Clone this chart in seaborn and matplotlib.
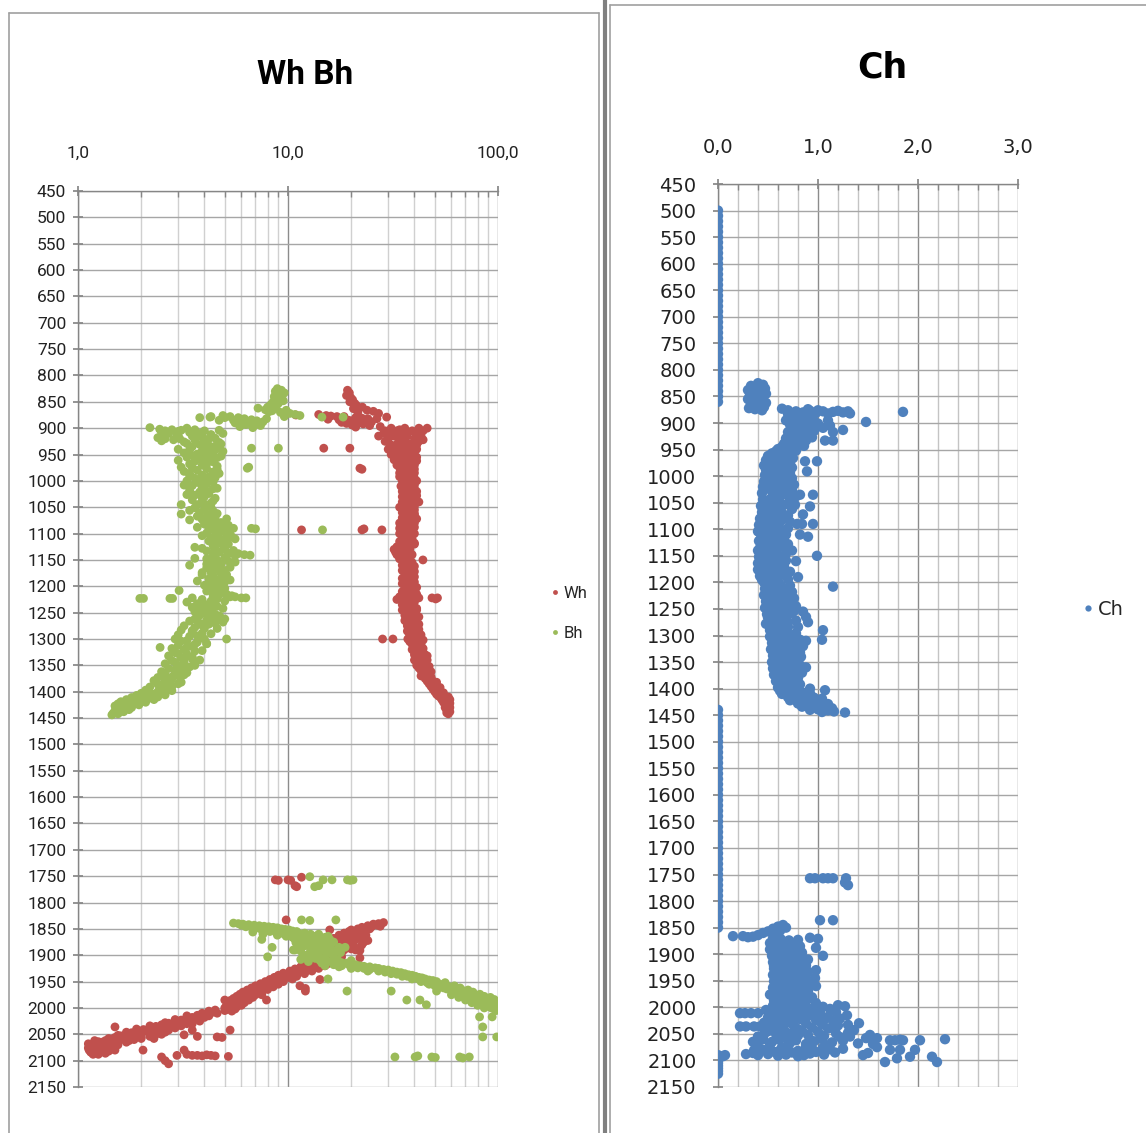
import numpy as np
import pandas as pd
import matplotlib
matplotlib.use("Agg")
import matplotlib.pyplot as plt
import seaborn as sns
from matplotlib.ticker import FixedLocator, NullFormatter
from matplotlib.lines import Line2D

# ---------------- data (depth, value) ----------------
wh_top = [(828,19.2),(833,19.6),(838,19.0),(842,19.9),(846,20.3),(850,19.7),(853,20.8),(857,21.2),
          (860,22.6),(863,20.5),(866,23.8),(868,25.5),(870,21.5),(872,27.0),(874,14.0),(875,10.9),
          (876,15.2),(877,16.0),(878,17.1),(878,18.5),(879,29.5),(880,21.0),(881,22.5),(882,24.0),
          (882,26.5),(883,15.5),(884,17.5),(885,19.5),(886,20.3),(887,23.2),(888,25.0),(889,18.0),
          (890,21.5),(891,19.0),(892,22.8),(894,20.2),(895,24.5),(897,27.5),(898,21.0)]
wh_column = [(900,31),(900,36),(900,42),(900,46),(905,29),(905,33),(905,39),(905,44),(910,28.5),(910,35),
             (910,41),(915,27),(915,32),(915,37),(915,43),(920,30),(920,34),(920,40),(925,29),(925,36),
             (925,42),(930,30.5),(930,33),(930,38),(935,31),(935,35),(935,40),(940,30),(940,36),(940,41),
             (945,32),(945,37),(950,31),(950,35),(950,40),(955,33),(955,38),(955,41),(960,32),(960,36),
             (960,39),(965,34),(965,39),(970,33),(970,37),(970,40),(975,34),(975,38),(980,35),(980,39),
             (985,34),(985,37),(985,40),(990,35),(990,39),(995,36),(995,40),(1000,35),(1000,38),(1000,41),
             (1005,36),(1005,39),(1010,34.5),(1010,38),(1015,36),(1015,40),(1020,35),(1020,38),(1020,41),
             (1025,36),(1025,39),(1030,35),(1030,38),(1035,37),(1035,40),(1040,35),(1040,38),(1040,42),
             (1045,36),(1045,39),(1050,34),(1050,37),(1055,36),(1055,40),(1060,35),(1060,38),(1065,37),
             (1065,40),(1070,35),(1070,38),(1075,36),(1075,39),(1080,34),(1080,37),(1080,40),(1085,35.5),
             (1085,39),(1090,34),(1090,37),(1095,36),(1095,39),(1100,34),(1100,38),(1100,40),(1105,35),
             (1105,37),(1110,36),(1110,39),(1115,34),(1115,38),(1120,35),(1120,37),(1120,40),(1125,33),
             (1125,36),(1130,32),(1130,35),(1130,38),(1135,32.5),(1135,36),(1140,33),(1140,37),(1140,39),
             (1145,34),(1145,36),(1150,35),(1150,38),(1155,36),(1155,39),(1160,35),(1160,37),(1165,36),
             (1165,39),(1170,35),(1170,38),(1175,36.5),(1175,39),(1180,36),(1180,38),(1185,35),(1185,38),
             (1190,36),(1190,39),(1195,35),(1195,37.5),(1200,36),(1200,39),(1205,37),(1205,40),(1210,35),
             (1210,38),(1215,36),(1215,39),(1215,41),(1220,34),(1220,37),(1220,40),(1225,33),(1225,38),
             (1230,36),(1230,40),(1235,35),(1235,38),(1240,36),(1240,39),(1245,35),(1245,38),(1245,41),
             (1250,37),(1250,40),(1255,36),(1255,39),(1260,37),(1260,41),(1265,36),(1265,39),(1270,37),
             (1270,40),(1275,37),(1275,41),(1280,38),(1280,40),(1285,37),(1285,41),(1290,38),(1290,40),
             (1295,38),(1295,42),(1300,39),(1300,41),(1305,38),(1305,42),(1310,39),(1310,43),(1315,40),
             (1315,42),(1320,39),(1320,43),(1325,40),(1325,44),(1330,40),(1330,42),(1330,45),(1335,41),
             (1335,44),(1340,40),(1340,43),(1340,46),(1345,42),(1345,45),(1350,41),(1350,44),(1355,42),
             (1355,46),(1360,43),(1360,45),(1360,47),(1365,44),(1365,47),(1370,43),(1370,46),(1375,45),
             (1375,48),(1380,46),(1380,49),(1385,47),(1385,50),(1390,48),(1390,51),(1395,49),(1395,52),
             (1400,50),(1400,53),(1405,51),(1405,54),(1410,53),(1410,56),(1410,58),(1415,54),(1415,57),
             (1415,59),(1420,55),(1420,58),(1425,56),(1425,58),(1430,56),(1430,59),(1435,57),(1435,58),
             (1440,57)]
wh_column_fill = [(903,34),(907,37),(912,31),(918,36),(922,44),(928,35),(932,41),(938,33),(942,38),(948,34),
                  (952,38),(958,35),(962,41),(968,36),(972,35),(978,40),(982,36),(988,38),(992,34),(998,39),
                  (1002,37),(1008,40),(1012,36),(1018,39),(1022,37),(1028,41),(1032,36),(1038,39),(1042,37),
                  (1048,40),(1052,38),(1058,37),(1062,40),(1068,36),(1072,41),(1078,38),(1082,36),(1088,40),
                  (1092,39),(1098,36),(1102,39),(1108,38),(1112,35),(1118,40),(1122,38),(1128,34),(1132,37),
                  (1138,35),(1142,38),(1148,34),(1152,37),(1158,38),(1162,40),(1168,37),(1172,40),(1178,37),
                  (1182,40),(1188,37),(1192,40),(1198,38),(1202,41),(1208,36),(1212,40),(1218,38),(1222,42),
                  (1228,36),(1232,39),(1238,37),(1242,41),(1248,39),(1252,38),(1258,42),(1262,39),(1268,38),
                  (1272,42),(1278,39),(1282,42),(1288,39),(1292,43),(1298,40),(1302,44),(1308,41),(1312,40),
                  (1318,44),(1322,41),(1328,43),(1332,46),(1338,42),(1342,45),(1348,43),(1352,47),(1358,44),
                  (1362,48),(1368,45),(1372,48),(1378,47),(1382,51),(1388,49),(1392,53),(1398,51),(1402,55),
                  (1408,52),(1412,55),(1418,56),(1422,59),(1428,57),(1432,58),(1438,59),(1442,58)]
wh_scatter = [(938,14.8),(938,19.7),(976,22.0),(978,22.5),(1093,11.6),(1093,22.5),(1091,23.0),(1093,28.0),
              (1300,28.2),(1300,31.6),(1300,37.2),(1150,43.9),(1222,48.5),(1224,50.5),(1222,51.5)]
wh_lower = [(1757,8.7),(1758,9.0),(1757,10.0),(1758,10.3),(1770,11.0),(1768,10.8),(1752,11.6),(1833,9.8),
            (1838,28.5),(1840,27),(1841,25.5),(1843,26.5),(1844,24),(1846,25),(1847,22.5),(1849,23.5),
            (1850,21.5),(1852,20),(1853,22),(1855,19.5),(1857,21),(1858,18.5),(1860,20),(1862,17.5),
            (1864,19),(1866,18),(1868,16.5),(1870,19.5),(1872,17),(1874,18.5),(1876,16.5),(1878,18),
            (1880,19),(1882,17),(1884,16),(1886,18),(1888,20),(1890,17),(1892,15.5),(1895,16.5),
            (1898,15),(1900,16),(1903,14.5),(1852,15.8),(1886,22),(1905,22),(1891,22),
            (1906,15.5),(1908,14),(1910,15),(1912,13.5),(1914,12.5),(1916,14),(1918,12),(1920,13),
            (1922,11.5),(1924,12.5),(1926,10.8),(1928,11.8),(1930,10.2),(1932,11),(1934,9.5),(1936,10.3),
            (1938,9),(1940,9.8),(1942,8.6),(1944,9.2),(1946,8.2),(1948,8.8),(1950,7.8),(1952,8.4),
            (1954,7.4),(1956,8),(1958,7),(1960,7.6),(1962,6.7),(1964,7.2),(1966,6.4),(1968,6.9),
            (1970,6.1),(1972,6.6),(1974,5.9),(1976,6.3),(1978,5.7),(1980,6.1),(1982,5.5),(1984,5.9),
            (1986,5.3),(1988,5.8),(1990,5.2),(1992,5.6),(1994,5.4),(1996,5.2),(1998,5.7),(2000,5.3),
            (2003,5.1),(2006,5.4),(1950,9.5),(1955,9),(1960,8.5),(1965,8),(1970,7.5),(1975,7),
            (1980,6.8),(1985,6.5),(1990,6.2),(1995,6.0),(1940,11),(1935,12),(1930,13),(1925,14),
            (1920,15),(1945,10.5),(1963,12.1),(1946,14.2),(1958,11.4),(1975,7.5),(1985,7.9),(1968,12.1)]
wh_lower_fill = [(1845,27.5),(1850,24.5),(1855,23),(1860,22),(1865,21),(1870,21),(1875,20),(1880,20.5),
                 (1885,19),(1890,18.5),(1895,18),(1900,17.5),(1903,18),(1908,16.5),(1912,16),(1916,15.5),
                 (1918,13),(1922,13.5),(1926,12),(1930,11.5),(1934,11),(1938,10.5),(1942,10),(1946,9.5),
                 (1950,8.8),(1954,8.4),(1958,8),(1962,7.8),(1966,7.3),(1970,7),(1974,6.8),(1978,6.5),
                 (1982,6.3),(1986,6.0),(1990,5.6),(1994,5.8),(1998,5.5),(2002,5.6),(2005,5.0),(1985,5.0),
                 (1995,5.1),(2000,5.0),(1890,21),(1880,22.5),(1875,23),(1872,24),(1868,22),(1862,23.5)]
wh_bottom = [(2004,4.5),(2006,4.2),(2008,4.4),(2010,3.9),(2012,4.1),(2014,3.7),(2016,3.9),(2018,3.5),
             (2020,3.3),(2021,3.6),(2023,3.1),(2024,3.4),(2026,2.9),(2027,3.2),(2029,2.7),(2030,3.0),
             (2032,2.5),(2033,2.8),(2035,2.35),(2036,2.6),(2038,2.2),(2039,2.45),(2041,2.05),(2042,2.3),
             (2044,1.95),(2045,2.15),(2047,1.8),(2048,2.0),(2050,1.7),(2051,1.9),(2053,1.6),(2054,1.8),
             (2056,1.5),(2057,1.7),(2059,1.45),(2060,1.6),(2062,1.35),(2063,1.5),(2065,1.3),(2066,1.42),
             (2068,1.22),(2069,1.35),(2071,1.17),(2072,1.3),(2074,1.13),(2075,1.25),(2077,1.2),(2078,1.35),
             (2080,1.25),(2082,1.15),(2083,1.3),(2085,1.22),(2040,2.6),(2045,2.4),(2035,2.9),(2030,3.5),
             (2025,3.8),(2050,2.2),(2055,2.0),(2060,1.85),(2065,1.7),(2070,1.55),(2075,1.45),(2080,1.5),
             (2050,2.5),(2058,2.3),(2036,1.5),(2080,2.04),(2093,2.5),(2100,2.6),(2106,2.7),(2090,2.96),
             (2080,3.2),(2088,3.3),(2090,3.5),(2090,3.7),(2091,3.9),(2089,4.1),(2090,4.3),(2091,4.5),
             (2092,5.2),(2055,4.6),(2056,4.85),(2042,5.3),(2051,3.2),(2054,3.7),(2042,3.5)]
wh_bottom_fill = [(2010,4.6),(2015,4.2),(2018,4.0),(2022,3.8),(2026,3.5),(2030,3.3),(2034,3.1),(2038,2.9),
                  (2042,2.7),(2046,2.6),(2050,2.35),(2054,2.2),(2058,2.0),(2062,1.75),(2066,1.55),(2070,1.45),
                  (2074,1.4),(2078,1.45),(2082,1.4),(2086,1.35),(2088,1.25),(2015,3.3),(2022,2.9),(2028,2.6),
                  (2034,2.2),(2040,1.9),(2046,1.7),(2052,1.55),(2058,1.4),(2064,1.25),(2070,1.15),(2076,1.12),
                  (2080,1.13),(2084,1.15),(2088,1.18),(2062,1.2),(2068,1.12)]

bh_top = [(825,8.9),(828,9.3),(830,8.7),(833,9.6),(835,9.0),(838,9.4),(840,8.6),(843,9.1),(845,8.8),
          (848,9.5),(850,8.5),(853,9.0),(855,8.3),(858,8.8),(860,8.0),(862,8.6),(865,7.8),(867,8.4),
          (869,8.1),(870,9.2),(862,7.2),(866,9.8),(872,10.2),(874,10.8),(876,11.4),(878,9.6),
          (876,4.9),(878,5.3),(880,5.8),(882,6.2),(884,6.7),(886,7.1),(888,7.6),(880,5.0),(885,5.5),
          (888,6.0),(890,6.5),(892,7.0),(885,4.7),(890,5.6),(893,6.3),(895,7.4),(897,5.9),(899,6.8),
          (882,7.9),(878,4.3),(880,3.8),(879,4.25),(879,14.5),(879,18.3)]
bh_column = [(899,2.2),(902,2.45),(905,2.6),(903,2.8),(906,3.0),(908,2.5),(910,2.7),(912,2.95),(918,2.4),
             (920,2.6),(922,2.85),(920,3.05),(924,2.5),(900,3.3),(903,3.6),(905,4.0),(908,3.4),(910,3.8),
             (912,4.3),(915,3.5),(917,3.9),(919,4.5),(922,3.6),(925,4.0),(927,4.7),(929,3.3),(931,3.8),
             (933,4.2),(935,3.5),(937,4.0),(939,4.6),(941,3.4),(943,3.9),(945,4.4),(947,3.2),(949,3.7),
             (951,4.1),(953,4.8),(955,3.3),(957,3.8),(959,4.3),(961,3.0),(963,3.6),(965,4.0),(968,3.4),
             (970,3.9),(972,4.6),(975,3.5),(977,4.1),(980,3.7),(983,4.4),(986,3.4),(989,3.9),(992,4.2),
             (995,3.6),(1000,3.3),(1003,3.7),(1006,4.1),(1009,3.5),(1012,3.9),(1015,4.4),(1018,3.4),
             (1021,3.8),(1024,4.2),(1027,3.6),(1030,4.0),(1033,4.5),(1036,3.5),(1039,3.9),(1042,4.3),
             (1045,3.1),(1045,3.7),(1048,4.1),(1051,3.6),(1054,4.0),(1057,4.4),(1060,3.8),(1063,3.1),
             (1064,4.2),(1067,3.7),(1070,4.5),(1073,3.9),(1074,3.4),(1076,4.3),(1079,4.8),(1082,4.0),
             (1085,4.6),(1088,4.2),(1090,5.0),(1090,5.5),(1093,4.4),(1096,4.8),(1099,4.1),(1102,4.6),
             (1105,5.1),(1108,4.3),(1110,5.6),(1111,4.8),(1114,4.2),(1117,4.7),(1120,5.2),(1123,4.4),
             (1126,3.6),(1128,4.5),(1130,5.0),(1133,4.1),(1135,4.7),(1137,5.3),(1138,5.8),(1140,6.2),
             (1141,6.6),(1143,4.4),(1145,5.0),(1147,3.6),(1150,4.6),(1152,5.2),(1155,4.3),(1158,4.8),
             (1160,3.4),(1162,4.5),(1165,4.1),(1168,4.6),(1170,5.0),(1173,4.3),(1176,4.8),(1178,3.9),
             (1180,4.4),(1183,4.9),(1186,4.2),(1188,4.6),(1190,3.7),(1192,5.0),(1195,4.4),(1198,4.0),
             (1200,4.7),(1203,4.3),(1206,4.8),(1209,4.1),(1212,4.6),(1215,5.1),(1218,4.4),(1220,5.3),
             (1218,5.4),(1220,5.6),(1222,3.5),(1225,3.9),(1228,4.3),(1230,3.3),(1233,3.7),(1235,4.1),
             (1238,4.6),(1240,3.5),(1243,3.9),(1245,4.3),(1248,3.6),(1250,4.0),(1253,4.5),(1255,3.8),
             (1258,4.2),(1260,4.8),(1262,5.0),(1265,4.4),(1268,4.9),(1266,3.4),(1270,3.8),(1272,4.2),
             (1275,3.2),(1278,3.6),(1280,4.0),(1283,3.1),(1286,3.5),(1289,3.9),(1292,3.0),(1295,3.4),
             (1298,3.8),(1300,2.9),(1303,3.3),(1306,3.7),(1309,4.1),(1312,3.0),(1314,3.5),(1318,2.8),
             (1320,3.2),(1323,3.6),(1326,2.9),(1329,3.3),(1332,2.7),(1335,3.1),(1338,3.5),(1341,2.8),
             (1344,3.2),(1347,2.6),(1350,3.0),(1353,3.4),(1356,2.7),(1359,3.1),(1362,2.5),(1365,2.9),
             (1345,3.6),(1340,3.8),(1368,2.6),(1370,3.0),(1373,2.4),(1376,2.8),(1379,2.3),(1382,2.7),
             (1385,3.0),(1388,2.5),(1391,2.2),(1394,2.6),(1397,2.1),(1400,2.4),(1403,2.0),(1405,2.3),
             (1407,1.9),(1409,2.15),(1411,1.8),(1413,2.0),(1415,1.7),(1417,1.9),(1419,1.6),(1421,1.8),
             (1423,1.55),(1425,1.7),(1427,1.5),(1429,1.65),(1431,1.55),(1433,1.6),(1436,1.5),(1438,1.58),
             (1441,1.47),(1444,1.45),(1420,2.1),(1415,2.3),(1410,2.4),(1425,1.95)]
bh_column_fill = [(904,3.1),(904,4.7),(910,4.9),(914,3.0),(920,4.2),(926,3.2),(930,4.8),(934,4.5),(940,3.0),
                  (944,4.9),(948,4.2),(952,3.5),(956,4.6),(960,3.9),(964,4.4),(968,4.1),(974,3.1),(978,4.6),
                  (982,3.2),(986,4.7),(990,3.4),(994,4.5),(998,3.9),(1002,4.4),(1008,3.2),(1014,4.6),
                  (1020,4.1),(1026,3.3),(1032,3.9),(1038,4.4),(1044,4.0),(1050,4.3),(1056,3.4),(1062,4.6),
                  (1068,4.1),(1072,5.1),(1078,4.4),(1084,5.2),(1088,3.7),(1094,5.3),(1098,4.6),(1104,3.9),
                  (1106,5.4),(1112,4.5),(1116,5.1),(1122,4.9),(1128,3.9),(1132,5.5),(1136,4.4),(1142,5.6),
                  (1148,4.1),(1154,5.6),(1158,4.1),(1164,5.3),(1170,4.4),(1174,3.9),(1178,5.1),(1182,4.3),
                  (1188,5.3),(1194,4.8),(1200,4.1),(1204,5.0),(1210,4.4),(1216,4.7),(1224,4.6),(1228,5.0),
                  (1232,4.4),(1238,4.0),(1242,4.9),(1246,3.7),(1252,4.3),(1256,4.7),(1262,3.6),(1264,4.1),
                  (1270,4.5),(1274,3.9),(1280,4.6),(1284,3.5),(1290,4.3),(1294,3.7),(1300,4.0),(1304,3.1),
                  (1310,3.6),(1316,3.3),(1322,3.9),(1328,3.0),(1334,3.5),(1338,3.2),(1344,2.9),(1350,3.6),
                  (1354,3.2),(1358,2.9),(1364,3.3),(1368,3.2),(1372,2.8),(1378,2.6),(1382,3.1),(1386,2.4),
                  (1390,2.8),(1396,2.45),(1398,2.8),(1402,2.2),(1406,2.6),(1412,2.2),(1418,2.0),(1422,1.7),
                  (1426,1.6),(1430,1.8),(1434,1.75),(1438,1.65),(1442,1.55)]
bh_scatter = [(938,6.7),(938,9.0),(976,6.4),(974,6.5),(1090,6.7),(1091,7.0),(1093,14.6),(1223,1.97),
              (1223,2.05),(1223,2.74),(1223,2.82),(1208,3.03),(1222,6.0),(1222,6.3),(1300,5.1),
              (1309,4.1),(1316,2.46)]
bh_lower = [(1751,12.7),(1770,13.4),(1768,14.0),(1757,14.7),(1757,16.2),(1757,19.2),(1758,19.8),(1757,20.4),
            (1833,11.6),(1834,12.7),(1833,16.9),
            (1839,5.5),(1840,5.8),(1841,6.1),(1842,6.5),(1843,6.9),(1844,7.3),(1845,7.7),(1846,8.1),
            (1847,8.5),(1848,8.9),(1850,9.3),(1851,9.7),(1852,10.1),(1854,10.5),(1855,11.0),(1843,6.0),
            (1845,6.6),(1847,7.2),(1849,7.9),(1851,8.6),(1853,9.4),(1856,10.2),(1858,11.2),
            (1858,12.0),(1860,12.8),(1862,11.5),(1864,13.5),(1866,12.2),(1868,14.2),(1870,11.8),(1872,13.0),
            (1874,14.8),(1876,12.5),(1878,13.8),(1880,15.5),(1882,12.0),(1884,14.0),(1886,16.0),(1888,12.8),
            (1890,14.5),(1892,11.5),(1894,13.2),(1896,15.2),(1898,12.5),(1900,14.0),(1902,16.5),(1904,13.0),
            (1906,15.0),(1908,17.2),(1910,14.2),(1912,16.0),(1914,18.0),(1866,15.0),(1875,16.5),(1885,17.5),
            (1895,17.8),(1870,10.8),(1880,11.2),(1890,10.6),(1900,11.8),(1905,12.5),(1885,18.7),
            (1870,7.5),(1885,8.4),(1903,8.0),(1890,10.8),(1945,15.5),(1968,19.1),
            (1915,19.0),(1917,20.0),(1918,21.0),(1920,22.0),(1921,23.0),(1922,24.5),(1924,26.0),(1925,27.0),
            (1927,28.5),(1928,30.0),(1930,31.5),(1932,33.0),(1933,34.5),(1935,36.0),(1937,37.5),(1938,39.0),
            (1940,40.5),(1942,42.0),(1943,43.5),(1945,45.0),(1947,47.0),(1948,49.0),(1950,51.0),(1955,53.0),
            (1957,56.0),(1960,59.0),(1962,62.0),(1965,65.0),(1967,68.0),(1970,71.0),(1972,74.0),(1975,77.0),
            (1977,80.0),(1980,83.0),(1982,86.0),(1984,89.0),(1986,92.0),(1988,95.0),(1990,98.0),
            (1925,23),(1930,27),(1935,31),(1940,35),(1945,39),(1950,43),(1955,47),(1958,50),(1962,55),
            (1966,60),(1970,62),(1974,66),(1978,70),(1982,75),(1986,80),(1990,85),(1994,88),(1998,92),
            (2002,96),(2005,98),(1920,18),(1925,20),(1910,20),(1930,24),
            (1985,36.8),(1985,42.5),(1994,45.6),(1968,31.0),(1968,51.0),(2017,81.7),(2036,84.6),
            (2055,84.6),(2017,93.8),(2055,98.6),(1988,98.0),
            (2093,32.3),(2093,40.3),(2091,41.5),(2093,48.4),(2094,50.3),(2093,65.7),(2095,68.0),(2093,73.0)]
bh_lower_fill = [(1846,6.3),(1849,7.0),(1852,7.5),(1855,8.2),(1857,8.8),(1859,9.5),(1861,10.2),(1856,6.8),
                 (1860,7.6),(1862,8.9),(1864,9.8),(1866,10.5),(1868,11.0),(1872,11.2),(1876,10.9),(1860,14.0),
                 (1864,15.5),(1870,15.8),(1874,13.5),(1878,12.2),(1882,13.2),(1886,14.6),(1888,15.8),(1892,16.8),
                 (1896,14.0),(1898,16.2),(1902,12.8),(1906,13.5),(1908,11.5),(1912,12.5),(1915,14.5),(1918,16.5),
                 (1920,15.0),(1922,17.5),(1918,19.5),(1924,21.5),(1927,24.5),(1932,29),(1936,33),(1940,37),
                 (1944,41),(1948,44),(1952,46),(1956,50),(1960,53),(1964,57),(1968,60),(1972,64),(1976,68),
                 (1980,72),(1984,77),(1988,82),(1992,86),(1996,90),(2000,93),(2003,97),(1952,56),(1958,62),
                 (1962,66),(1966,72),(1970,76),(1974,82),(1978,86),(1980,92),(1984,96),(1975,60),(1980,65),
                 (1985,70),(1990,75),(1995,80),(2000,86),(1996,97),(1999,99)]

ch_zero_upper = [500,510,520,530,540,550,560,570,580,590,600,610,620,630,640,650,660,670,680,690,700,
                 710,720,730,740,750,760,770,780,790,800,810,820,830,840,850,860]
ch_zero_lower = [1440,1450,1460,1470,1480,1490,1500,1510,1520,1530,1540,1550,1560,1570,1580,1590,1600,
                 1610,1620,1630,1640,1650,1660,1670,1680,1690,1700,1710,1720,1730,1740,1750,1760,1770,
                 1780,1790,1800,1810,1820,1830,1840,1850,2090,2095,2100,2105,2110,2115,2120,2125]
ch_upper = [(825,0.40),(828,0.45),(830,0.33),(832,0.38),(835,0.47),(838,0.30),(840,0.36),(842,0.42),
            (845,0.48),(848,0.32),(850,0.39),(852,0.44),(855,0.30),(858,0.36),(860,0.43),(862,0.48),
            (865,0.33),(867,0.40),(870,0.46),(872,0.31),(874,0.37),(876,0.44),
            (873,0.64),(876,0.70),(878,0.78),(880,0.85),(877,0.92),(881,0.98),(878,1.05),(882,1.10),
            (879,1.15),(877,1.20),(880,1.25),(878,1.30),(882,1.32),(876,1.00),(874,0.90),(879,1.85),(898,1.48),
            (883,0.70),(885,0.80),(887,0.90),(889,0.75),(891,0.85),(893,0.95),(895,0.68),(897,0.78),
            (899,0.88),(901,1.00),(903,0.72),(905,0.82),(907,0.92),(909,1.05),(911,0.76),(913,0.86),
            (915,0.96),(917,0.70),(919,0.80),(921,0.90),(923,0.74),(925,0.84),(927,0.94),(929,0.68),
            (931,0.78),(933,0.88),(935,0.72),(937,0.82),(939,0.66),(941,0.76),(943,0.86),(945,0.64),
            (947,0.74),(949,0.60),(951,0.70),(917,1.15),(913,1.25),(933,1.07),(933,1.15),(895,1.10),(905,1.12),
            (953,0.58),(955,0.66),(957,0.54),(959,0.62),(961,0.70),(963,0.56),(965,0.64),(967,0.52),
            (969,0.60),(971,0.68),(973,0.55),(975,0.63),(977,0.50),(979,0.58),(981,0.66),(983,0.54),
            (985,0.62),(987,0.70),(989,0.56),(991,0.64),(993,0.52),(995,0.60),(997,0.68),(999,0.57),
            (972,0.87),(972,0.99),(991,0.89),(955,0.75)]
ch_middle = [(1003,0.60),(1006,0.68),(1009,0.54),(1012,0.62),(1015,0.70),(1018,0.56),(1021,0.64),(1024,0.51),
             (1027,0.59),(1030,0.67),(1033,0.55),(1036,0.63),(1039,0.71),(1042,0.53),(1045,0.61),(1048,0.50),
             (1051,0.58),(1054,0.66),(1057,0.54),(1060,0.62),(1063,0.48),(1066,0.56),(1069,0.64),(1072,0.52),
             (1075,0.60),(1078,0.47),(1081,0.55),(1084,0.63),(1087,0.51),(1090,0.59),(1093,0.46),(1096,0.54),
             (1099,0.62),(1035,0.82),(1035,0.95),(1054,0.77),(1057,0.92),(1072,0.85),(1090,0.79),(1090,0.84),
             (1090,0.95),(1114,0.90),(1110,0.82),
             (1102,0.44),(1105,0.52),(1108,0.60),(1111,0.47),(1114,0.55),(1117,0.43),(1120,0.51),(1123,0.59),
             (1126,0.46),(1129,0.54),(1132,0.62),(1135,0.42),(1138,0.50),(1141,0.58),(1144,0.45),(1147,0.53),
             (1150,0.61),(1153,0.44),(1156,0.52),(1159,0.68),(1162,0.47),(1165,0.55),(1168,0.63),(1171,0.42),
             (1174,0.50),(1177,0.58),(1180,0.45),(1183,0.53),(1186,0.66),(1189,0.48),(1192,0.56),(1195,0.44),
             (1198,0.60),(1150,0.99),(1140,0.74),(1160,0.78),(1180,0.72),(1190,0.80),(1175,0.48),(1200,0.52),
             (1203,0.55),(1206,0.63),(1209,0.50),(1212,0.58),(1215,0.66),(1218,0.53),(1221,0.61),(1224,0.69),
             (1227,0.52),(1230,0.60),(1233,0.68),(1236,0.55),(1239,0.63),(1242,0.50),(1245,0.58),(1248,0.66),
             (1251,0.53),(1254,0.61),(1257,0.74),(1260,0.49),(1263,0.57),(1266,0.65),(1269,0.52),(1272,0.60),
             (1275,0.70),(1278,0.55),(1281,0.63),(1284,0.80),(1287,0.58),(1290,0.66),(1293,0.56),(1296,0.64),
             (1299,0.72),(1208,1.15),(1290,1.05),(1308,1.04),(1245,0.78),(1255,0.85),(1265,0.88),(1275,0.90),
             (1230,0.72),
             (1302,0.60),(1305,0.68),(1308,0.76),(1311,0.62),(1314,0.70),(1317,0.58),(1320,0.66),(1323,0.74),
             (1326,0.61),(1329,0.69),(1332,0.82),(1335,0.59),(1338,0.67),(1341,0.75),(1344,0.62),(1347,0.70),
             (1350,0.60),(1353,0.68),(1356,0.76),(1359,0.63),(1362,0.71),(1365,0.79),(1368,0.61),(1371,0.69),
             (1374,0.64),(1377,0.72),(1380,0.80),(1383,0.66),(1386,0.74),(1389,0.62),(1392,0.70),(1395,0.78),
             (1398,0.66),(1310,0.88),(1320,0.85),(1340,0.83),(1360,0.88),(1370,0.84),(1400,0.92),
             (1403,0.68),(1405,0.76),(1407,0.84),(1409,0.92),(1411,0.72),(1413,0.80),(1415,0.88),(1417,0.96),
             (1419,1.04),(1421,0.78),(1423,0.86),(1425,0.94),(1427,1.02),(1429,1.10),(1431,0.90),(1433,0.98),
             (1435,1.06),(1437,1.14),(1439,1.00),(1441,1.10),(1443,1.16),(1445,1.27),(1403,1.07)]
ch_middle_fill = [(952,0.78),(958,0.72),(962,0.50),(966,0.75),(970,0.48),(976,0.72),(980,0.46),(984,0.74),
                  (988,0.48),(994,0.72),(998,0.47),(1004,0.74),(1010,0.46),(1016,0.76),(1020,0.45),(1026,0.74),
                  (1032,0.44),(1038,0.78),(1044,0.45),(1050,0.72),(1056,0.43),(1062,0.74),(1068,0.44),(1074,0.70),
                  (1080,0.42),(1086,0.72),(1092,0.41),(1098,0.70),(1104,0.40),(1110,0.68),(1116,0.66),(1122,0.41),
                  (1128,0.70),(1134,0.66),(1140,0.40),(1146,0.68),(1152,0.41),(1158,0.60),(1164,0.40),(1170,0.66),
                  (1176,0.40),(1182,0.64),(1188,0.42),(1194,0.70),(1200,0.46),(1206,0.72),(1212,0.47),(1218,0.74),
                  (1224,0.46),(1230,0.76),(1236,0.48),(1242,0.74),(1248,0.47),(1254,0.76),(1260,0.70),(1266,0.50),
                  (1272,0.78),(1278,0.48),(1284,0.70),(1290,0.52),(1296,0.78),(1302,0.52),(1308,0.82),(1314,0.54),
                  (1320,0.78),(1326,0.53),(1332,0.74),(1338,0.55),(1344,0.80),(1350,0.54),(1356,0.82),(1362,0.55),
                  (1368,0.78),(1374,0.56),(1380,0.72),(1386,0.58),(1392,0.82),(1398,0.60),(1404,0.62),(1410,0.64),
                  (1416,0.70),(1422,0.72),(1428,0.80),(1434,0.84),(1440,0.92),(1444,1.04)]
ch_lower = [(1757,0.92),(1757,0.97),(1757,1.05),(1757,1.10),(1757,1.15),(1757,1.28),(1765,1.27),(1770,1.30),
            (1836,1.02),(1836,1.15),(1866,0.15),
            (1866,0.25),(1868,0.30),(1867,0.35),(1864,0.40),(1860,0.45),(1857,0.50),(1852,0.55),(1848,0.60),
            (1845,0.65),(1850,0.68),(1856,0.62),(1862,0.58),
            (1870,0.55),(1872,0.63),(1874,0.71),(1876,0.58),(1878,0.66),(1880,0.74),(1882,0.56),(1884,0.64),
            (1886,0.72),(1888,0.80),(1890,0.60),(1892,0.68),(1894,0.76),(1896,0.58),(1898,0.66),(1900,0.74),
            (1902,0.82),(1904,0.62),(1906,0.70),(1908,0.78),(1910,0.60),(1912,0.68),(1914,0.76),(1916,0.64),
            (1918,0.72),(1920,0.80),(1922,0.56),(1924,0.66),(1926,0.74),(1928,0.82),(1930,0.62),(1932,0.70),
            (1934,0.78),(1936,0.86),(1938,0.60),(1940,0.68),(1942,0.76),(1944,0.84),(1946,0.64),(1948,0.72),
            (1950,0.80),(1952,0.88),(1954,0.62),(1956,0.70),(1958,0.78),(1960,0.86),(1962,0.66),(1964,0.74),
            (1966,0.82),(1968,0.60),(1970,0.68),(1972,0.76),(1974,0.84),(1976,0.52),(1978,0.64),(1980,0.72),
            (1982,0.80),(1984,0.90),(1986,0.66),(1988,0.74),(1990,0.82),(1992,0.98),(1869,0.92),(1871,1.00),
            (1888,0.98),(1903,1.05),(1930,0.98),(1945,0.97),(1960,0.98),(1910,0.90),
            (1995,0.70),(1997,0.85),(1999,1.05),(1996,1.20),(1998,1.27),(2000,0.60),(2002,0.78),(2004,0.95),
            (2006,0.68),(2008,0.86),(2010,1.02),(2011,0.22),(2011,0.27),(2011,0.33),(2011,0.40),(2011,0.52),
            (2012,0.58),(2014,0.75),(2015,1.29),(2016,0.90),(2018,1.10),(2020,0.64),(2022,0.82),(2024,0.98),
            (2026,1.15),(2028,0.70),(2030,0.88),(2030,1.41),(2032,1.04),(2034,1.20),(2036,0.22),(2036,0.28),
            (2036,0.36),(2036,0.42),(2035,0.52),(2036,0.76),(2038,0.94),(2040,1.10),(2042,0.66),(2044,0.84),
            (2046,1.00),(2048,1.30),(2050,0.72),(2052,0.90),(2054,1.06),(2056,1.22),(2058,1.48),(2060,0.60),
            (2062,0.78),(2064,0.96),(2066,1.14),(2068,1.40),(2069,1.55),(2070,0.52),(2072,0.70),(2074,0.88),
            (2076,1.05),(2078,1.25),(2080,0.45),(2081,0.62),(2082,0.80),(2084,0.98),(2085,1.17),(2086,0.35),
            (2088,0.28),(2088,0.50),(2089,0.68),(2090,0.86),(2086,1.50),(2090,1.45),(2055,0.40),(2060,0.45),
            (2065,0.35),(2045,0.50),(2050,0.58),(2040,0.62),(2025,0.55),(2058,1.59),(2075,1.59),(2052,1.52),
            (2062,1.72),(2062,1.77),(2061,1.82),(2062,1.85),(2062,2.02),(2060,2.27),(2080,1.72),(2080,1.82),
            (2080,1.97),(2093,1.92),(2103,1.67),(2096,1.79),(2093,2.14),(2103,2.19),(2090,0.07),(2092,0.05)]
ch_lower_fill = [(1873,0.80),(1879,0.52),(1885,0.82),(1891,0.52),(1897,0.84),(1903,0.54),(1909,0.86),(1915,0.55),
                 (1921,0.88),(1927,0.56),(1933,0.90),(1939,0.55),(1945,0.88),(1951,0.56),(1957,0.92),(1963,0.55),
                 (1969,0.90),(1975,0.58),(1981,0.94),(1987,0.56),(1993,0.62),(1997,0.55),(2001,0.90),(2003,1.12),
                 (2005,0.48),(2007,0.80),(2009,1.18),(2013,0.66),(2017,0.98),(2019,0.50),(2021,1.22),(2023,0.74),
                 (2027,1.05),(2029,0.46),(2031,0.62),(2033,1.30),(2037,1.16),(2039,0.54),(2041,0.80),(2043,1.36),
                 (2047,0.60),(2049,1.18),(2051,0.46),(2053,0.80),(2055,1.32),(2057,0.66),(2059,1.02),(2061,0.92),
                 (2063,1.25),(2065,0.54),(2067,0.72),(2069,0.88),(2071,1.08),(2073,0.40),(2075,0.64),(2077,0.94),
                 (2079,1.12),(2081,0.36),(2083,0.55),(2085,0.74),(2087,0.92),(2089,1.06),(2090,0.40),(2091,0.60),
                 (2092,0.80)]

# ---------------- tables ----------------
def rows(pairs, name):
    return pd.DataFrame({"depth": [p[0] for p in pairs], "value": [p[1] for p in pairs], "series": name})

wh = rows(wh_top + wh_column + wh_column_fill + wh_scatter + wh_lower + wh_lower_fill + wh_bottom
          + wh_bottom_fill, "Wh")
bh = rows(bh_top + bh_column + bh_column_fill + bh_scatter + bh_lower + bh_lower_fill, "Bh")
df_left = pd.concat([wh, bh], ignore_index=True)

ch_pairs = ([(d, 0.0) for d in ch_zero_upper] + ch_upper + ch_middle + ch_middle_fill
            + [(d, 0.0) for d in ch_zero_lower] + ch_lower + ch_lower_fill)
df_right = rows(ch_pairs, "Ch")

# ---------------- style ----------------
sns.set_theme(style="white")
plt.rcParams["font.family"] = ["DejaVu Sans"]
NARROW = "Roboto"

W, H = 1146, 1133
fig = plt.figure(figsize=(W / 100, H / 100), dpi=100)
fig.patch.set_facecolor("white")

def fx(px):
    return px / W

def fy(py):
    return 1 - py / H

ax1 = fig.add_axes([fx(78), fy(1087), fx(498) - fx(78), fy(191) - fy(1087)])
ax2 = fig.add_axes([fx(718), fy(1087), fx(1018) - fx(718), fy(184) - fy(1087)])

sns.scatterplot(data=df_left, x="value", y="depth", hue="series", hue_order=["Wh", "Bh"],
                palette={"Wh": "#C0504D", "Bh": "#9BBB59"}, s=40, linewidth=0, alpha=1,
                ax=ax1, zorder=3)
sns.scatterplot(data=df_right, x="value", y="depth", hue="series",
                palette={"Ch": "#4F81BD"}, s=56, linewidth=0, alpha=1, ax=ax2, zorder=3)

yticks = list(range(450, 2151, 50))
gray_axis = "#868686"

# left axes
ax1.set_xscale("log")
ax1.set_xlim(1, 100)
ax1.set_ylim(2150, 450)
ax1.set_xticks([1, 10, 100])
ax1.set_xticklabels(["1,0", "10,0", "100,0"])
ax1.xaxis.set_minor_locator(FixedLocator([2, 3, 4, 5, 6, 7, 8, 9, 20, 30, 40, 50, 60, 70, 80, 90]))
ax1.xaxis.set_minor_formatter(NullFormatter())
ax1.set_yticks(yticks)
ax1.set_yticklabels([str(v) for v in yticks])
ax1.xaxis.tick_top()
ax1.tick_params(axis="x", which="major", top=True, bottom=False, direction="inout", length=7,
                color=gray_axis, pad=18, labelsize=12.5, labelfontfamily=NARROW, labelcolor="#222222")
ax1.tick_params(axis="x", which="minor", top=True, bottom=False, direction="in", length=4, color=gray_axis)
ax1.tick_params(axis="y", which="major", left=True, direction="inout", length=7, color=gray_axis,
                pad=5, labelsize=12.5, labelfontfamily=NARROW, labelcolor="#222222")
ax1.grid(True, which="minor", axis="x", color="#d0d0d0", linewidth=1)
ax1.grid(True, which="major", axis="x", color="#8c8c8c", linewidth=1)
ax1.grid(True, which="major", axis="y", color="#a6a6a6", linewidth=1)

# right axes
ax2.set_xlim(0, 3)
ax2.set_ylim(2150, 450)
ax2.set_xticks([0, 1, 2, 3])
ax2.set_xticklabels(["0,0", "1,0", "2,0", "3,0"])
ax2.xaxis.set_minor_locator(FixedLocator([i / 5 for i in range(1, 15) if i % 5 != 0]))
ax2.xaxis.set_minor_formatter(NullFormatter())
ax2.set_yticks(yticks)
ax2.set_yticklabels([str(v) for v in yticks])
ax2.xaxis.tick_top()
ax2.tick_params(axis="x", which="major", top=True, bottom=False, direction="inout", length=7,
                color=gray_axis, pad=16, labelsize=14, labelcolor="#222222")
ax2.tick_params(axis="x", which="minor", top=True, bottom=False, direction="in", length=4, color=gray_axis)
ax2.tick_params(axis="y", which="major", left=True, direction="inout", length=7, color=gray_axis,
                pad=12, labelsize=14, labelcolor="#222222")
ax2.grid(True, which="minor", axis="x", color="#c4c4c4", linewidth=1)
ax2.grid(True, which="major", axis="x", color="#8c8c8c", linewidth=1)
ax2.grid(True, which="major", axis="y", color="#a6a6a6", linewidth=1)

for ax in (ax1, ax2):
    ax.set_axisbelow(True)
    ax.set_xlabel("")
    ax.set_ylabel("")
    ax.set_facecolor("white")
    for side in ("right", "bottom"):
        ax.spines[side].set_visible(False)
    for side in ("left", "top"):
        ax.spines[side].set_visible(True)
        ax.spines[side].set_color(gray_axis)
        ax.spines[side].set_linewidth(1)

# legends
sns.move_legend(ax1, loc="center left", bbox_to_anchor=(fx(540), fy(613)), bbox_transform=fig.transFigure,
                frameon=False, title=None, labelspacing=1.5, handletextpad=0.1, handlelength=0.8,
                borderpad=0, markerscale=0.55, prop={"family": NARROW, "size": 12})
sns.move_legend(ax2, loc="center left", bbox_to_anchor=(fx(1070), fy(609)), bbox_transform=fig.transFigure,
                frameon=False, title=None, handletextpad=0.15, handlelength=0.8,
                borderpad=0, markerscale=0.6, prop={"size": 14})

# titles
fig.text(fx(305), fy(75), "Wh Bh", ha="center", va="center", fontsize=24, fontweight="bold",
         family=NARROW, color="black")
fig.text(fx(882), fy(68), "Ch", ha="center", va="center", fontsize=25, fontweight="bold",
         color="black")

# chart-area frames
frame_c = "#a0a0a0"
fig.add_artist(Line2D([fx(9), fx(599)], [fy(13), fy(13)], color=frame_c, lw=1.2, transform=fig.transFigure))
fig.add_artist(Line2D([fx(9), fx(9)], [fy(13), 0], color=frame_c, lw=1.2, transform=fig.transFigure))
fig.add_artist(Line2D([fx(599), fx(599)], [fy(13), 0], color=frame_c, lw=1.2, transform=fig.transFigure))
fig.add_artist(Line2D([fx(605), fx(605)], [1, 0], color="#7f7f7f", lw=3, transform=fig.transFigure))
fig.add_artist(Line2D([fx(610), 1], [fy(5), fy(5)], color=frame_c, lw=1.2, transform=fig.transFigure))
fig.add_artist(Line2D([fx(610), fx(610)], [fy(5), 0], color=frame_c, lw=1.2, transform=fig.transFigure))

fig.savefig("out.png", dpi=100)
